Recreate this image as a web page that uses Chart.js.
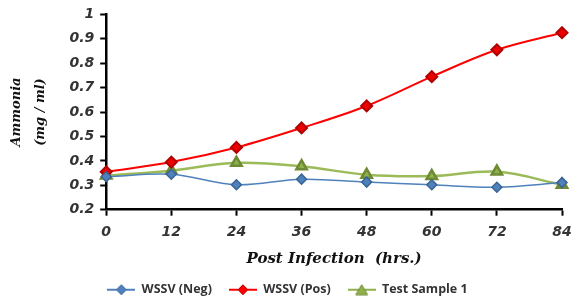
<!DOCTYPE html>
<html>
<head>
<meta charset="utf-8">
<script src="https://cdn.jsdelivr.net/npm/chart.js@4"></script>
<style>
  html, body { margin: 0; padding: 0; background: #fff; }
  #wrap { width: 571px; height: 299px; }
</style>
</head>
<body>
<div id="wrap"><canvas id="chart"></canvas></div>
<script>
// hours post infection
const hours = ['0', '12', '24', '36', '48', '60', '72', '84'];

// ammonia (mg / ml)
const wssvNeg = [0.335, 0.345, 0.302, 0.325, 0.313, 0.302, 0.292, 0.311];
const wssvPos = [0.355, 0.395, 0.455, 0.535, 0.625, 0.745, 0.855, 0.925];
const testSample1 = [0.34, 0.36, 0.392, 0.378, 0.343, 0.338, 0.356, 0.302];

const tickFont = { family: '"DejaVu Sans"', size: 14, weight: 'bold', style: 'italic' };

// small legend picture: line with the marker in the middle
function legendIcon(color, edge, shape) {
  const c = document.createElement('canvas');
  c.width = 28; c.height = 12;
  const g = c.getContext('2d');
  g.strokeStyle = color; g.lineWidth = 2;
  g.beginPath(); g.moveTo(0, 6); g.lineTo(28, 6); g.stroke();
  g.fillStyle = color; g.strokeStyle = edge; g.lineWidth = 1;
  g.beginPath();
  if (shape === 'tri') {
    g.moveTo(14, 1); g.lineTo(20, 11); g.lineTo(8, 11);
  } else {
    g.moveTo(14, 1); g.lineTo(19, 6); g.lineTo(14, 11); g.lineTo(9, 6);
  }
  g.closePath(); g.fill(); g.stroke();
  return c;
}

const icons = [
  legendIcon('#4f81bd', '#3a6595', 'dia'),
  legendIcon('#ff0000', '#b00000', 'dia'),
  legendIcon('#8fb04a', '#6f8a35', 'tri')
];

new Chart(document.getElementById('chart'), {
  type: 'line',
  data: {
    labels: hours,
    datasets: [
      {
        label: 'WSSV (Neg)',
        data: wssvNeg,
        borderColor: '#4f81bd',
        backgroundColor: '#4f81bd',
        pointBorderColor: '#3a6595',
        pointStyle: 'rectRot',
        pointRadius: 5,
        borderWidth: 1.5,
        tension: 0.35
      },
      {
        label: 'WSSV (Pos)',
        data: wssvPos,
        borderColor: '#ff0000',
        backgroundColor: '#ee0000',
        pointBorderColor: '#b00000',
        pointStyle: 'rectRot',
        pointRadius: 5.5,
        borderWidth: 2,
        tension: 0.35
      },
      {
        label: 'Test Sample 1',
        data: testSample1,
        borderColor: '#9bbb59',
        backgroundColor: '#8fb04a',
        pointBorderColor: '#6f8a35',
        pointStyle: 'triangle',
        pointRadius: 6,
        borderWidth: 2.5,
        tension: 0.35
      }
    ]
  },
  options: {
    responsive: true,
    maintainAspectRatio: false,
    animation: false,
    layout: { padding: { left: 4, right: 0, top: 8, bottom: -7 } },
    plugins: {
      legend: {
        position: 'bottom',
        labels: {
          usePointStyle: true,
          pointStyleWidth: 28,
          boxHeight: 12,
          padding: 17,
          color: '#333',
          font: { family: '"Open Sans"', size: 12.5, weight: 'bold' },
          generateLabels(chart) {
            return chart.data.datasets.map((ds, i) => ({
              text: ds.label,
              pointStyle: icons[i],
              fontColor: '#333',
              datasetIndex: i,
              hidden: false,
              lineWidth: 0,
              strokeStyle: 'transparent',
              fillStyle: 'transparent'
            }));
          }
        }
      },
      tooltip: { enabled: false }
    },
    scales: {
      x: {
        offset: false,
        afterFit: s => { s.paddingRight = 9; },
        grid: { drawOnChartArea: false, color: '#000', tickLength: 6, tickWidth: 2 },
        border: { color: '#000', width: 2.5 },
        ticks: { color: '#333', font: tickFont, padding: 8, maxRotation: 0 },
        title: {
          display: true,
          text: 'Post Infection  (hrs.)',
          color: '#111',
          font: { family: '"DejaVu Serif"', size: 15, weight: 'bold', style: 'italic', lineHeight: 1 },
          padding: { top: 3, bottom: 0 }
        }
      },
      y: {
        min: 0.2,
        max: 1,
        grid: { drawOnChartArea: false, color: '#000', tickLength: 6, tickWidth: 2 },
        border: { color: '#000', width: 2.5 },
        ticks: {
          stepSize: 0.1,
          color: '#333',
          font: tickFont,
          padding: 6,
          callback: v => (Math.round(v * 10) / 10).toString()
        },
        title: {
          display: true,
          text: ['Ammonia', '(mg / ml)'],
          color: '#111',
          font: { family: '"DejaVu Serif"', size: 13, weight: 'bold', style: 'italic', lineHeight: 1.9 },
          padding: { top: 0, bottom: 10 }
        }
      }
    }
  }
});
</script>
</body>
</html>
